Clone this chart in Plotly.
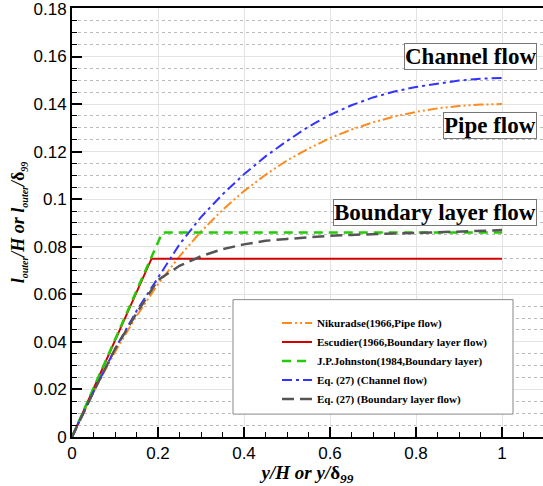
import plotly.graph_objects as go

# ---- data ----
x_grid = [0, 0.05, 0.1, 0.15, 0.2, 0.25, 0.3, 0.35, 0.4, 0.45, 0.5,
          0.55, 0.6, 0.65, 0.7, 0.75, 0.8, 0.85, 0.9, 0.95, 1.0]
nikuradse = [0, 0.0189, 0.0358, 0.0509, 0.0642, 0.0760, 0.0864, 0.0955, 0.1034, 0.1103, 0.1163,
             0.1213, 0.1257, 0.1293, 0.1323, 0.1348, 0.1367, 0.1382, 0.1392, 0.1398, 0.1400]
channel_eq27 = [0, 0.019, 0.037, 0.053, 0.067, 0.081, 0.0925, 0.102, 0.1105, 0.118, 0.1245,
                0.1305, 0.1355, 0.1395, 0.1428, 0.1453, 0.1472, 0.1487, 0.1499, 0.1507, 0.151]
bl_eq27 = [0, 0.019, 0.037, 0.052, 0.066, 0.072, 0.0760, 0.079, 0.081, 0.0825, 0.0833,
           0.084, 0.0846, 0.085, 0.0854, 0.0856, 0.0858, 0.0861, 0.0864, 0.0866, 0.087]
escudier_x = [0, 0.185, 1.0]
escudier_y = [0, 0.075, 0.075]
johnston_x = [0, 0.21, 1.0]
johnston_y = [0, 0.086, 0.086]

names = ["Nikuradse(1966,Pipe flow)",
         "Escudier(1966,Boundary layer flow)",
         "J.P.Johnston(1984,Boundary layer)",
         "Eq. (27) (Channel flow)",
         "Eq. (27) (Boundary layer flow)"]

fig = go.Figure()
fig.add_trace(go.Scatter(x=x_grid, y=nikuradse, mode="lines", name=names[0],
                         line=dict(color="#FF8A1E", width=2, dash="10px,3px,2px,3px,2px,3px")))
fig.add_trace(go.Scatter(x=escudier_x, y=escudier_y, mode="lines", name=names[1],
                         line=dict(color="#D40000", width=2)))
fig.add_trace(go.Scatter(x=johnston_x, y=johnston_y, mode="lines", name=names[2],
                         line=dict(color="#22CC00", width=2.5, dash="9px,6px")))
fig.add_trace(go.Scatter(x=x_grid, y=channel_eq27, mode="lines", name=names[3],
                         line=dict(color="#3333FF", width=2, dash="10px,4px,3px,4px")))
fig.add_trace(go.Scatter(x=x_grid, y=bl_eq27, mode="lines", name=names[4],
                         line=dict(color="#555555", width=2.5, dash="12px,6px")))

serif = "Liberation Serif, Times New Roman, serif"
sans = "Liberation Sans, Arial, sans-serif"

# legend frame
fig.add_shape(type="rect", xref="paper", yref="paper",
              x0=(233 - 72) / 471, x1=(513 - 72) / 471,
              y0=(437 - 414) / 431, y1=(437 - 299) / 431,
              line=dict(color="#888888", width=1), fillcolor="white", layer="above")

box_kw = dict(xref="paper", yref="paper", showarrow=False, xanchor="right", yanchor="middle",
              bordercolor="#777777", borderwidth=1, bgcolor="white", borderpad=0,
              font=dict(family=serif, size=23, color="black", weight="bold"))
fig.add_annotation(text="Channel flow", x=(537 - 72) / 471, y=(437 - 55) / 431, **box_kw)
fig.add_annotation(text="Pipe flow", x=(537 - 72) / 471, y=(437 - 124) / 431, **box_kw)
fig.add_annotation(text="Boundary layer flow", x=(537 - 72) / 471, y=(437 - 211) / 431, **box_kw)

sub = '<sub><span style="font-size:10px">{}</span></sub>'
ytitle = ("<b><i>l" + sub.format("outer") + "/H or l" + sub.format("outer") +
          "/</i>δ" + sub.format("<i>99</i>") + "</b>")

fig.update_layout(
    width=543, height=486,
    margin=dict(l=72, r=0, t=6, b=49),
    paper_bgcolor="white", plot_bgcolor="white",
    showlegend=True,
    legend=dict(x=(277 - 72) / 471, y=(437 - 308) / 431, xanchor="left", yanchor="top",
                bgcolor="rgba(0,0,0,0)", borderwidth=0,
                font=dict(family=serif, size=11, color="black", weight="bold"),
                tracegroupgap=0, itemwidth=30),
    xaxis=dict(range=[0, 471 / 430], tickvals=[0, 0.2, 0.4, 0.6, 0.8, 1.0],
               ticktext=["0", "0.2", "0.4", "0.6", "0.8", "1"],
               ticks="inside", ticklen=10, tickwidth=2, tickcolor="black",
               showline=True, linecolor="black", linewidth=2, mirror=True,
               showgrid=True, gridcolor="#E3E3E3", gridwidth=1, zeroline=False,
               tickfont=dict(family=sans, size=17, color="black"),
               minor=dict(dtick=0.05, ticks="inside", ticklen=5, tickwidth=1, tickcolor="black",
                          showgrid=False),
               title=dict(text="<b><i>y/H or y/</i>δ<sub><i>99</i></sub></b>",
                          font=dict(family=serif, size=19, color="black"), standoff=6)),
    yaxis=dict(range=[0, 431 / 2389], tickvals=[0, 0.02, 0.04, 0.06, 0.08, 0.1, 0.12, 0.14, 0.16, 0.18],
               ticktext=["0", "0.02", "0.04", "0.06", "0.08", "0.1", "0.12", "0.14", "0.16", "0.18"],
               ticks="inside", ticklen=10, tickwidth=2, tickcolor="black",
               ticklabeloverflow="allow",
               showline=True, linecolor="black", linewidth=2,
               showgrid=True, gridcolor="#E3E3E3", gridwidth=1, zeroline=False,
               tickfont=dict(family=sans, size=17, color="black"),
               minor=dict(dtick=0.005, ticks="inside", ticklen=5, tickwidth=1, tickcolor="black",
                          showgrid=True, gridcolor="#BBBBBB", griddash="dot", gridwidth=1),
               title=dict(text=ytitle,
                          font=dict(family=serif, size=18, color="black"), standoff=4)),
)

fig.write_html("out.html", config={"displayModeBar": False},
               post_script="document.body.style.margin='0';document.body.style.overflow='hidden';")
